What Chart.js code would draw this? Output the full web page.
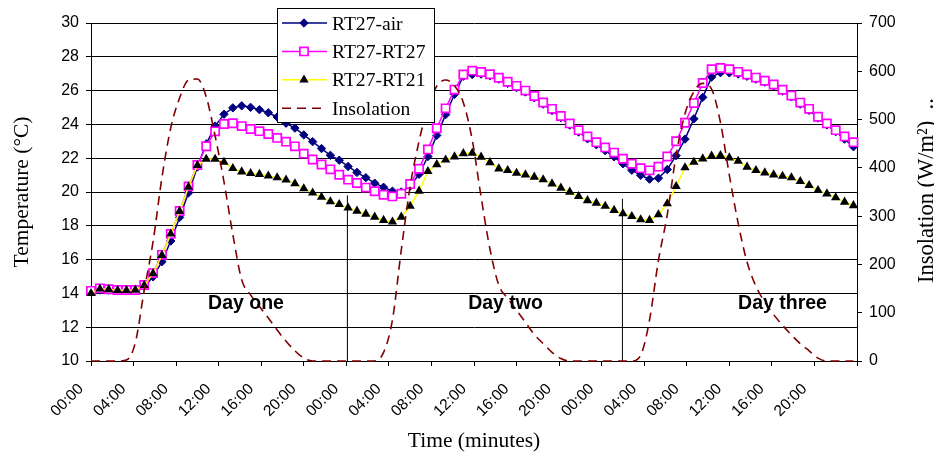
<!DOCTYPE html>
<html>
<head>
<meta charset="utf-8">
<script src="https://cdn.jsdelivr.net/npm/chart.js@4.4.1/dist/chart.umd.min.js"></script>
<style>
    html, body { margin: 0; padding: 0; background: #fff; }
    #wrap { width: 934px; height: 455px; }
</style>
</head>
<body>
<div id="wrap"><canvas id="temperature-graph" width="934" height="455"></canvas></div>
<script>
// One sample every 50 minutes over three days
const timeMinutes = [
    0, 50, 100, 150, 200, 250, 300, 350, 400, 450,
    500, 550, 600, 650, 700, 750, 800, 850, 900, 950,
    1000, 1050, 1100, 1150, 1200, 1250, 1300, 1350, 1400, 1450,
    1500, 1550, 1600, 1650, 1700, 1750, 1800, 1850, 1900, 1950,
    2000, 2050, 2100, 2150, 2200, 2250, 2300, 2350, 2400, 2450,
    2500, 2550, 2600, 2650, 2700, 2750, 2800, 2850, 2900, 2950,
    3000, 3050, 3100, 3150, 3200, 3250, 3300, 3350, 3400, 3450,
    3500, 3550, 3600, 3650, 3700, 3750, 3800, 3850, 3900, 3950,
    4000, 4050, 4100, 4150, 4200, 4250, 4300,
];

const airTemp = [
    14.1, 14.2, 14.2, 14.15, 14.15, 14.15, 14.4, 14.98, 15.88, 17.1,
    18.5, 19.95, 21.48, 22.85, 23.9, 24.6, 24.98, 25.1, 25.01, 24.87,
    24.69, 24.44, 24.07, 23.78, 23.38, 22.98, 22.57, 22.17, 21.88, 21.51,
    21.16, 20.85, 20.52, 20.28, 20.05, 20.0, 20.35, 21.05, 22.1, 23.35,
    24.58, 25.78, 26.85, 26.95, 26.98, 26.88, 26.68, 26.43, 26.18, 25.92,
    25.58, 25.2, 24.82, 24.4, 23.96, 23.55, 23.15, 22.8, 22.45, 22.08,
    21.67, 21.29, 20.99, 20.76, 20.82, 21.33, 22.15, 23.13, 24.33, 25.6,
    26.8, 27.06, 27.05, 26.98, 26.85, 26.68, 26.5, 26.28, 25.97, 25.63,
    25.2, 24.83, 24.38, 23.97, 23.57, 23.13, 22.68,
];

const rt27Temp = [
    14.15, 14.3, 14.25, 14.2, 14.2, 14.2, 14.5, 15.2, 16.28, 17.52,
    18.88, 20.33, 21.6, 22.71, 23.59, 24.02, 24.07, 23.9, 23.73, 23.6,
    23.43, 23.2, 22.98, 22.7, 22.27, 21.92, 21.63, 21.34, 21.02, 20.73,
    20.53, 20.26, 20.04, 19.84, 19.74, 19.9, 20.47, 21.38, 22.52, 23.77,
    24.95, 26.06, 26.95, 27.18, 27.1, 26.97, 26.76, 26.52, 26.28, 26.0,
    25.68, 25.3, 24.92, 24.5, 24.06, 23.66, 23.29, 22.95, 22.64, 22.33,
    21.97, 21.67, 21.41, 21.28, 21.5, 22.1, 23.0, 24.1, 25.26, 26.45,
    27.26, 27.34, 27.27, 27.11, 26.95, 26.77, 26.58, 26.36, 26.05, 25.71,
    25.29, 24.92, 24.45, 24.06, 23.66, 23.29, 22.95,
];

const rt21Temp = [
    14.0, 14.27, 14.23, 14.18, 14.18, 14.2, 14.48, 15.18, 16.26, 17.52,
    18.86, 20.3, 21.58, 21.95, 21.95, 21.77, 21.4, 21.2, 21.1, 21.05,
    20.96, 20.85, 20.72, 20.5, 20.2, 19.95, 19.7, 19.43, 19.27, 19.06,
    18.88, 18.7, 18.52, 18.33, 18.23, 18.52, 19.17, 20.06, 21.22, 21.63,
    21.9, 22.09, 22.28, 22.3, 22.07, 21.75, 21.38, 21.28, 21.12, 21.02,
    20.89, 20.73, 20.49, 20.24, 20.0, 19.74, 19.5, 19.35, 19.17, 18.92,
    18.72, 18.56, 18.37, 18.33, 18.66, 19.31, 20.33, 21.44, 21.77, 21.97,
    22.13, 22.17, 22.03, 21.83, 21.48, 21.28, 21.14, 21.02, 20.94, 20.85,
    20.63, 20.39, 20.1, 19.9, 19.67, 19.41, 19.2,
];

const insolation = [
    0, 0, 0, 0, 2, 38, 146, 247, 380, 483,
    545, 582, 584, 547, 466, 371, 262, 168, 137, 113,
    89, 64, 41, 21, 6, 0, 0, 0, 0, 0,
    0, 0, 0, 18, 85, 230, 362, 455, 527, 569,
    582, 570, 535, 458, 340, 232, 157, 130, 105, 80,
    55, 36, 18, 5, 0, 0, 0, 0, 0, 0,
    0, 0, 12, 85, 208, 303, 427, 512, 558, 575,
    563, 494, 385, 285, 205, 155, 122, 96, 74, 54,
    36, 21, 6, 0, 0, 0, 0,
];

const timeTickLabels = [
    "00:00", "04:00", "08:00", "12:00", "16:00", "20:00",
    "00:00", "04:00", "08:00", "12:00", "16:00", "20:00",
    "00:00", "04:00", "08:00", "12:00", "16:00", "20:00",
    "",
];

// Day annotations (minutes, °C)
const dayLabels = ["Day one", "Day two", "Day three"];
const dayLabelTimes = [874, 2338, 3900];
const dayLabelTemp = 13.07;
const dividerTimes = [1446, 2997];
const dividerTops = [19.8, 19.6];

const sansFont = "'Liberation Sans', Arial, sans-serif";
const serifFont = "'Liberation Serif', 'Times New Roman', serif";

function toPoints(values) {
    return timeMinutes.map((t, i) => ({ x: t, y: values[i] }));
}

function dividerDataset(i) {
    return {
        data: [{ x: dividerTimes[i], y: 10 }, { x: dividerTimes[i], y: dividerTops[i] }],
        borderColor: "#000",
        borderWidth: 1,
        pointRadius: 0,
        yAxisID: "y",
        order: 5,
    };
}

// Legend box drawn inside the plot, like the original
function drawLegend(chart) {
    const ctx = chart.ctx;
    const box = { x: 277, y: 8, w: 157, h: 114 };
    ctx.save();
    ctx.fillStyle = "#fff";
    ctx.fillRect(box.x, box.y, box.w, box.h);
    ctx.strokeStyle = "#000";
    ctx.lineWidth = 1;
    ctx.strokeRect(box.x + 0.5, box.y + 0.5, box.w, box.h);

    let row = 0;
    chart.data.datasets.forEach((ds) => {
        if (!ds.label) return;
        const y = box.y + 15 + row * 28.4;
        ctx.setLineDash(ds.borderDash || []);
        ctx.strokeStyle = ds.borderColor;
        ctx.lineWidth = ds.borderWidth;
        ctx.beginPath();
        ctx.moveTo(box.x + 5, y);
        ctx.lineTo(box.x + 50, y);
        ctx.stroke();
        ctx.setLineDash([]);
        if (ds.pointRadius > 0) {
            ctx.fillStyle = ds.pointBackgroundColor;
            ctx.strokeStyle = ds.pointBorderColor;
            ctx.lineWidth = ds.pointBorderWidth;
            Chart.helpers.drawPoint(ctx, {
                pointStyle: ds.pointStyle,
                radius: ds.pointRadius,
                borderWidth: ds.pointBorderWidth,
                rotation: 0,
            }, box.x + 27, y);
        }
        ctx.fillStyle = "#000";
        ctx.font = `19.6px ${serifFont}`;
        ctx.textAlign = "left";
        ctx.textBaseline = "alphabetic";
        ctx.fillText(ds.label, box.x + 55, y + 6.5);
        row++;
    });
    ctx.restore();
}

// Right title reads bottom to top, which Chart.js does not do for a right axis
function drawRightTitle(chart) {
    const ctx = chart.ctx;
    ctx.save();
    ctx.translate(933, chart.chartArea.bottom - 78);
    ctx.rotate(-Math.PI / 2);
    ctx.fillStyle = "#000";
    ctx.font = `22.5px ${serifFont}`;
    ctx.textAlign = "left";
    ctx.textBaseline = "alphabetic";
    ctx.fillText("Insolation (W/m\u00B2)  ..", 0, 0);
    ctx.restore();
}

const decorations = {
    id: "decorations",
    afterDatasetsDraw(chart) {
        const { ctx, scales } = chart;
        ctx.save();
        ctx.fillStyle = "#000";
        ctx.font = `bold 19.5px ${sansFont}`;
        ctx.textAlign = "center";
        ctx.textBaseline = "alphabetic";
        dayLabels.forEach((text, i) => {
            ctx.fillText(text, scales.x.getPixelForValue(dayLabelTimes[i]), scales.y.getPixelForValue(dayLabelTemp));
        });
        ctx.restore();
    },
    afterDraw(chart) {
        drawRightTitle(chart);
        drawLegend(chart);
    },
};

const datasets = [
    {
        label: "RT27-air",
        data: toPoints(airTemp),
        borderColor: "#000080",
        borderWidth: 1.5,
        pointStyle: "rectRot",
        pointRadius: 4.2,
        pointBackgroundColor: "#000080",
        pointBorderColor: "#000080",
        pointBorderWidth: 1,
        yAxisID: "y",
        order: 4,
    },
    {
        label: "RT27-RT27",
        data: toPoints(rt27Temp),
        borderColor: "#FF00FF",
        borderWidth: 1.5,
        pointStyle: "rect",
        pointRadius: 5.8,
        pointBackgroundColor: "#FFFFFF",
        pointBorderColor: "#FF00FF",
        pointBorderWidth: 1.7,
        yAxisID: "y",
        order: 3,
    },
    {
        label: "RT27-RT21",
        data: toPoints(rt21Temp),
        borderColor: "#FFFF00",
        borderWidth: 1.5,
        pointStyle: "triangle",
        pointRadius: 5.4,
        pointBackgroundColor: "#000000",
        pointBorderColor: "#000000",
        pointBorderWidth: 0,
        yAxisID: "y",
        order: 2,
    },
    {
        label: "Insolation",
        data: toPoints(insolation),
        borderColor: "#800000",
        borderWidth: 1.6,
        borderDash: [9, 6],
        pointRadius: 0,
        cubicInterpolationMode: "monotone",
        yAxisID: "y2",
        order: 1,
    },
    dividerDataset(0),
    dividerDataset(1),
];

const ctx = document.getElementById("temperature-graph").getContext("2d");
const chart = new Chart(ctx, {
    type: "line",
    data: { datasets },
    options: {
        responsive: false,
        animation: false,
        events: [],
        clip: false,
        layout: { padding: { top: 23, left: 0, right: 0, bottom: 0 } },
        plugins: {
            legend: { display: false },
            tooltip: { enabled: false },
        },
        scales: {
            x: {
                type: "linear",
                min: 0,
                max: 4320,
                border: { color: "#000", width: 1 },
                grid: { drawOnChartArea: false, drawTicks: true, tickLength: 5, tickColor: "#000" },
                ticks: {
                    stepSize: 240,
                    autoSkip: false,
                    minRotation: 45,
                    maxRotation: 45,
                    labelOffset: -10,
                    padding: 14,
                    color: "#000",
                    font: { family: sansFont, size: 15.5 },
                    callback: (value) => timeTickLabels[Math.round(value / 240)],
                },
                title: {
                    display: true,
                    text: "Time (minutes)",
                    color: "#000",
                    font: { family: serifFont, size: 21.5 },
                    padding: { top: 0, bottom: 1 },
                },
                afterFit: (scale) => { scale.height = 94; },
            },
            y: {
                position: "left",
                min: 10,
                max: 30,
                border: { color: "#000", width: 1 },
                grid: { color: "#000", lineWidth: 1, tickLength: 5, tickColor: "#000" },
                ticks: {
                    stepSize: 2,
                    padding: 7,
                    color: "#000",
                    font: { family: sansFont, size: 16 },
                },
                title: {
                    display: true,
                    text: "Temperature (\u00B0C)",
                    color: "#000",
                    font: { family: serifFont, size: 21.5 },
                    padding: { top: 9, bottom: 0 },
                },
                afterFit: (scale) => { scale.width = 91; },
            },
            y2: {
                position: "right",
                min: 0,
                max: 700,
                border: { color: "#000", width: 1 },
                grid: { drawOnChartArea: false, tickLength: 5, tickColor: "#000" },
                ticks: {
                    stepSize: 100,
                    padding: 7,
                    color: "#000",
                    font: { family: sansFont, size: 16 },
                },
                afterFit: (scale) => { scale.width = 77; },
            },
        },
    },
    plugins: [decorations],
});
</script>
</body>
</html>
